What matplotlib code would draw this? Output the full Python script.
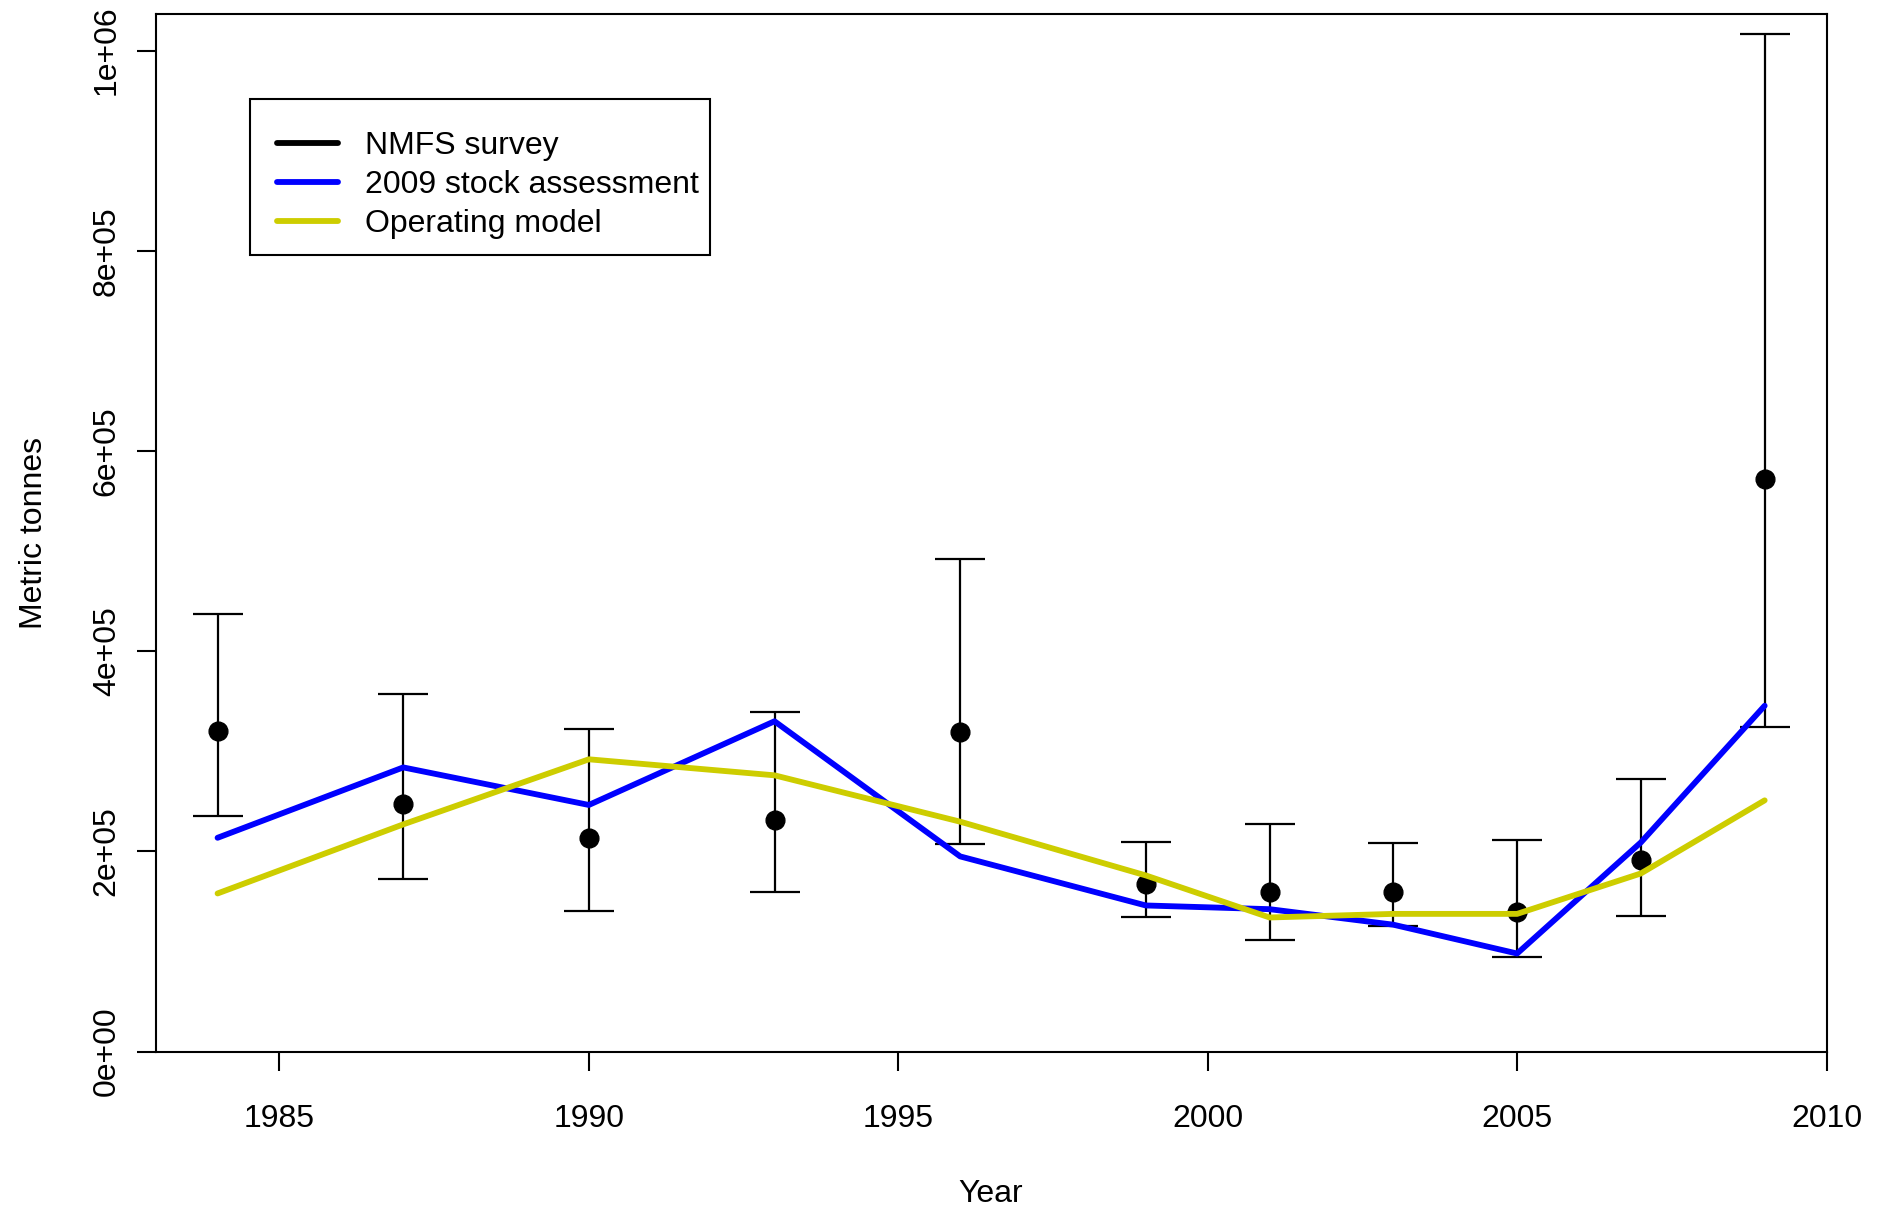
import matplotlib
matplotlib.use("Agg")
import matplotlib.pyplot as plt
from matplotlib.lines import Line2D
from matplotlib.patches import Rectangle
import numpy as np

plt.rcParams['font.family'] = ['Liberation Sans', 'DejaVu Sans']
plt.rcParams['font.size'] = 23

# survey years and biomass (metric tonnes)
years = [1984, 1987, 1990, 1993, 1996, 1999, 2001, 2003, 2005, 2007, 2009]
survey = [320500, 247000, 213000, 231000, 319500, 167500, 159000, 159000, 139000, 191500, 572000]
survey_lo = [235600, 172000, 140000, 159000, 207000, 134000, 111500, 125600, 94500, 135200, 324000]
survey_hi = [437500, 357500, 321800, 339700, 491600, 209300, 227300, 208100, 211700, 272700, 1016700]
assessment = [213600, 283900, 246400, 330000, 195000, 146000, 142300, 126800, 98000, 209000, 345500]
op_model = [158000, 227000, 292000, 276000, 229700, 176000, 134000, 137600, 137600, 178000, 251000]

xticks = [1985, 1990, 1995, 2000, 2005, 2010]
yticks = [0, 200000, 400000, 600000, 800000, 1000000]
ytick_labels = ["0e+00", "2e+05", "4e+05", "6e+05", "8e+05", "1e+06"]

W, H = 1878, 1206
fig = plt.figure(figsize=(W / 100, H / 100), dpi=100)
ax = fig.add_axes([0.0829, 0.128, 0.8897, 0.860])

survey = np.array(survey)
yerr = np.vstack([survey - np.array(survey_lo), np.array(survey_hi) - survey])
ax.errorbar(years, survey, yerr=yerr, fmt='o', color='black', ms=13.5,
            elinewidth=1.6, capsize=18, capthick=1.6, zorder=2)
ax.plot(years, assessment, color='#0000FF', lw=4.2, solid_capstyle='round', zorder=3)
ax.plot(years, op_model, color='#CDCD00', lw=4.2, solid_capstyle='round', zorder=3)

ax.set_xlim(1983, 2010)
ax.set_ylim(0, 1036000)
ax.set_xticks(xticks)
ax.set_yticks(yticks)
ax.set_yticklabels(ytick_labels, rotation=90, va='center', ha='center')
ax.tick_params(axis='both', direction='out', length=13.7, width=1.5, labelsize=23)
ax.tick_params(axis='y', pad=21.5)
ax.tick_params(axis='x', pad=24)
for s in ax.spines.values():
    s.set_linewidth(1.5)

ax.set_xlabel("Year", fontsize=23)
ax.set_ylabel("Metric tonnes", fontsize=23)
ax.xaxis.set_label_coords(0.5, -0.123)
ax.yaxis.set_label_coords(-0.064, 0.5)

# legend entries, boxed by a separate frame
handles = [Line2D([], [], color='black', lw=4.2, solid_capstyle='round'),
           Line2D([], [], color='#0000FF', lw=4.2, solid_capstyle='round'),
           Line2D([], [], color='#CDCD00', lw=4.2, solid_capstyle='round')]
labels = ["NMFS survey", "2009 stock assessment", "Operating model"]
leg = ax.legend(handles, labels, loc='upper left',
                bbox_to_anchor=(250 / W, 1 - 104 / H),
                bbox_transform=fig.transFigure, borderaxespad=0,
                fontsize=23, handlelength=1.91, handletextpad=0.82,
                borderpad=0.86, labelspacing=0.28, frameon=False)
fig.patches.append(Rectangle((250 / W, 1 - 255 / H), 460 / W, 156 / H,
                             transform=fig.transFigure, fill=False,
                             edgecolor='black', lw=1.5))

fig.savefig("out.png", dpi=100)
